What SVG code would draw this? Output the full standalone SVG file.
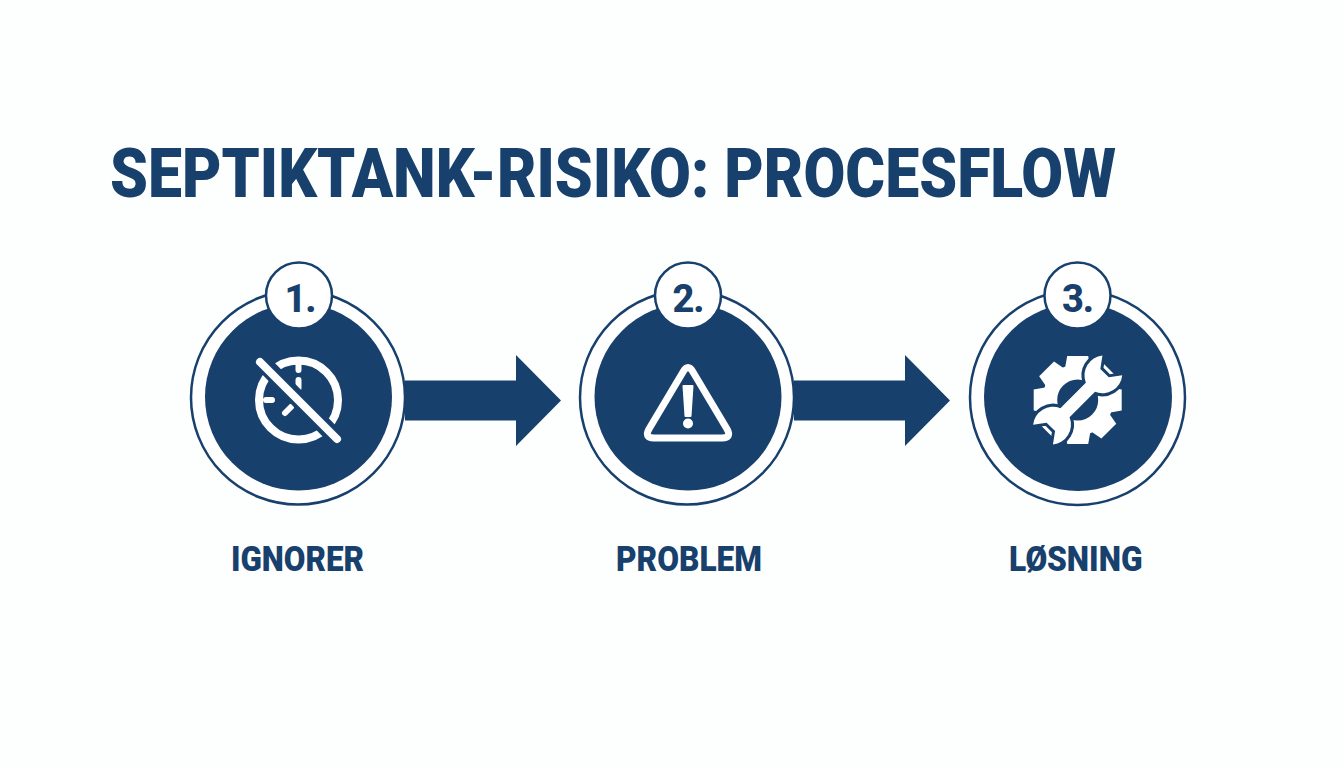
<svg xmlns="http://www.w3.org/2000/svg" width="1344" height="768" viewBox="0 0 1344 768">
<style>
.t{font-family:Roboto,"Liberation Sans",sans-serif;font-weight:900;fill:#17406d}
.title{font-size:69px}
.lab{font-size:35px}
.num{font-size:38px;font-weight:800;text-anchor:middle;letter-spacing:-1px}
.ring{fill:#fff;stroke:#17406d;stroke-width:2.5}
.disc{fill:#17406d}
.badge{fill:#fff;stroke:#17406d;stroke-width:2.5}
.ic{fill:none;stroke:#fff;stroke-linecap:round;stroke-linejoin:round}
.arrow{fill:#17406d}
.wr{fill:#fff;stroke:#17406d;stroke-width:6;paint-order:stroke;stroke-linejoin:round}
</style>
<defs>
<polygon id="tooth" fill="#fff" points="-13,-30 13,-30 10.5,-44 -10.5,-44"/>
</defs>
<rect width="1344" height="768" fill="#fdfefe"/>
<text id="title" class="t title" x="110" y="197" textLength="1006" lengthAdjust="spacingAndGlyphs">SEPTIKTANK-RISIKO: PROCESFLOW</text>
<g id="connectors">
<polygon class="arrow" points="405,380.5 516,380.5 516,355 561,400.5 516,446 516,420.5 405,420.5"/>
<polygon class="arrow" points="794,380.5 905,380.5 905,355 950,400.5 905,446 905,420.5 794,420.5"/>
</g>
<g id="node1">
<circle class="ring" cx="298" cy="397.5" r="107"/>
<circle class="disc" cx="298.5" cy="397" r="93.5"/>
<circle class="badge" cx="299" cy="295.5" r="33"/>
<text class="t num" x="300" y="311.5">1.</text>
<circle class="ic" cx="298.5" cy="400" r="39.5" stroke-width="8"/>
<path class="ic" stroke-width="6" d="M298.5 365V370M298.5 380V388M266 400H272M285 413L291 407"/>
<path d="M261 361L338 440" fill="none" stroke="#17406d" stroke-width="17"/>
<path class="ic" stroke-width="8" d="M260 362L337 439"/>
<text class="t lab" x="231" y="570.5" textLength="133" lengthAdjust="spacingAndGlyphs">IGNORER</text>
</g>
<g id="node2">
<circle class="ring" cx="687" cy="397.5" r="107"/>
<circle class="disc" cx="688" cy="397" r="93.5"/>
<circle class="badge" cx="688" cy="295.5" r="33"/>
<text class="t num" x="688" y="311.5">2.</text>
<path class="ic" stroke-width="7" d="M683 372Q688 363 693 372L727 429Q732 438 722 438H654Q644 438 649 429Z"/>
<path d="M683.5 386H692.5L690.5 416H685.5Z" fill="#fff" stroke="#fff" stroke-width="2" stroke-linejoin="round"/>
<circle cx="688" cy="423.5" r="5" fill="#fff"/>
<text class="t lab" x="616" y="570.5" textLength="146" lengthAdjust="spacingAndGlyphs">PROBLEM</text>
</g>
<g id="node3">
<circle class="ring" cx="1077.5" cy="397.5" r="107.5"/>
<circle class="disc" cx="1078" cy="397" r="94"/>
<circle class="badge" cx="1077.5" cy="295.5" r="33"/>
<text class="t num" x="1077.5" y="311.5">3.</text>
<g transform="translate(1077.7 400)">
<circle r="28" fill="none" stroke="#fff" stroke-width="15"/>
<use href="#tooth"/>
<use href="#tooth" transform="rotate(45)"/>
<use href="#tooth" transform="rotate(90)"/>
<use href="#tooth" transform="rotate(135)"/>
<use href="#tooth" transform="rotate(180)"/>
<use href="#tooth" transform="rotate(225)"/>
<use href="#tooth" transform="rotate(270)"/>
<use href="#tooth" transform="rotate(315)"/>
<path class="wr" transform="rotate(-45)" d="M18 -6.5A20 20 0 0 1 49 -14L38 -6V6L49 14A20 20 0 0 1 18 6.5H-18A20 20 0 0 1 -49 14L-38 6V-6L-49 -14A20 20 0 0 1 -18 -6.5Z"/>
</g>
<text class="t lab" x="1009" y="570.5" textLength="133.5" lengthAdjust="spacingAndGlyphs">LØSNING</text>
</g>
</svg>
